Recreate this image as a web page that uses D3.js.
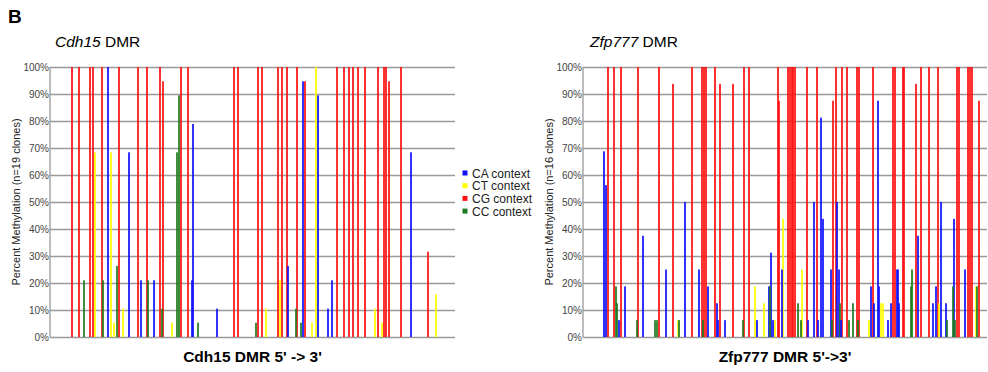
<!DOCTYPE html>
<html>
<head>
<meta charset="utf-8">
<script src="https://cdn.jsdelivr.net/npm/d3@7"></script>
<style>
  body { margin: 0; background: #fff; }
  text { font-family: "Liberation Sans", Arial, sans-serif; }
</style>
</head>
<body>
<div id="app"></div>
<script>
// site = cytosine position along the DMR (5' -> 3'), pct = % methylated clones

// Cdh15 DMR, n=19 clones
const cdh15CG = [[22,100],[29,100],[40,100],[43,100],[52,100],[69,100],[88,100],[97,100],[110,100],[113,94.7],
  [131,100],[138,100],[184,100],[188,100],[208,100],[212,100],[228,100],[232,100],[237,100],[247,100],[255,94.7],
  [287,100],[294,100],[299,100],[303,100],[308,100],[315,100],[328,100],[334,100],[336,100],[339,94.7],[351,100],[378,31.6]]
const cdh15CA = [[58,100],[79,68.4],[91,21],[104,21],[142,21],[143,78.9],[167,10.5],[238,26.3],[253,94.7],[268,89.5],
  [278,10.5],[282,21],[361,68.4]]
const cdh15CT = [[45,68.4],[61,68.4],[64,5.3],[73,10.5],[122,5.3],[216,10.5],[230,21],[262,5.3],[266,100],
  [325,10.5],[332,5.3],[386,15.8]]
const cdh15CC = [[34,21],[53,21],[67,26.3],[98,21],[112,10.5],[127,68.4],[129,89.5],[148,5.3],[206,5.3],[246,10.5],[251,5.3]]

// Zfp777 DMR, n=16 clones
const zfpCG = [[25,100],[31,100],[38,100],[55,100],[76,100],[90,93.75],[109,100],[119,100],[121,100],[123,100],
  [132,100],[137,93.75],[150,93.75],[161,100],[166,100],[195,100],[196,87.5],[205,100],[207,100],[209,100],[210,100],
  [212,100],[224,100],[234,100],[250,87.5],[253,100],[259,100],[264,100],[274,100],[276,100],[290,100],[310,100],
  [312,100],[320,100],[321,100],[333,93.75],[338,100],[346,100],[355,100],[374,100],[376,100],[385,100],[387,100],
  [389,100],[396,87.5]]
const zfpCA = [[21,68.75],[23,56.25],[36,6.25],[42,18.75],[60,37.5],[83,25],[102,50],[116,25],[125,18.75],[134,12.5],
  [135,6.25],[142,6.25],[174,6.25],[186,18.75],[188,31.25],[190,6.25],[199,25],[225,6.25],[231,50],[235,6.25],
  [238,81.25],[240,43.75],[248,25],[254,50],[256,25],[258,6.25],[288,18.75],[291,12.5],[295,87.5],[296,18.75],
  [305,6.25],[308,12.5],[314,25],[315,25],[316,12.5],[335,37.5],[350,12.5],[353,18.75],[358,50],[363,12.5],
  [371,43.75],[382,25]]
const zfpCT = [[95,6.25],[172,18.75],[181,12.5],[192,6.25],[200,43.75],[219,25],[286,6.25],[298,12.5],[300,12.5],
  [356,12.5],[393,18.75]]
const zfpCC = [[33,18.75],[34,12.5],[54,6.25],[72,6.25],[74,6.25],[96,6.25],[120,6.25],[160,6.25],[187,18.75],
  [215,12.5],[218,6.25],[249,6.25],[257,12.5],[266,6.25],[270,12.5],[275,6.25],[328,18.75],[329,25],[364,6.25],
  [370,18.75],[372,6.25],[394,18.75]]

const contexts = ["CA context", "CT context", "CG context", "CC context"]
const colors = ["#1010ff", "#ffff00", "#ff1010", "#1f7a1f"]
const yTicks = d3.range(0, 101, 10)

const W = 988, H = 372
const svg = d3.select("#app").append("svg")
    .attr("width", W)
    .attr("height", H)

svg.append("text")
    .attr("x", 8).attr("y", 23)
    .attr("font-size", 19).attr("font-weight", "bold")
    .text("B")

function panel(opts) {
  const x = d3.scaleLinear().domain([0, opts.sites]).range([opts.left, opts.right])
  const y = d3.scaleLinear().domain([0, 100]).range([337, 67])
  const g = svg.append("g")

  // gridlines + tick labels
  g.append("g")
      .attr("transform", `translate(${opts.left},0)`)
      .call(d3.axisLeft(y).tickValues(yTicks).tickSize(opts.left - opts.right).tickPadding(1).tickFormat(d => d + "%"))
      .call(a => a.select(".domain").remove())
      .call(a => a.selectAll(".tick line").attr("stroke", "#999").attr("stroke-width", 1.3))
      .call(a => a.selectAll(".tick text").attr("fill", "#444")
        .attr("font-family", "Liberation Sans, Arial").attr("font-size", 10))

  g.append("line")
      .attr("x1", opts.left).attr("x2", opts.left)
      .attr("y1", y(100)).attr("y2", y(0))
      .attr("stroke", "#999").attr("stroke-width", 1.3)

  const bars = []
  opts.series.forEach((s, i) => s.forEach(([site, pct]) => bars.push({ site, pct, ctx: i })))
  bars.sort((a, b) => b.pct - a.pct)

  g.append("g")
    .selectAll("rect")
    .data(bars)
    .join("rect")
      .attr("x", d => x(d.site) - 0.85)
      .attr("width", 1.7)
      .attr("y", d => y(d.pct))
      .attr("height", d => y(0) - y(d.pct))
      .attr("fill", d => colors[d.ctx])

  const t = g.append("text")
      .attr("x", opts.titleX).attr("y", 47)
      .attr("font-size", 15.5)
  t.append("tspan").attr("font-style", "italic").text(opts.gene)
  t.append("tspan").text(" DMR")

  g.append("text")
      .attr("transform", `translate(${opts.left - 30},${y(50)}) rotate(-90)`)
      .attr("text-anchor", "middle")
      .attr("font-size", 11)
      .attr("fill", "#222")
      .text(opts.yTitle)

  g.append("text")
      .attr("x", (opts.left + opts.right) / 2).attr("y", 362)
      .attr("text-anchor", "middle")
      .attr("font-size", 15.5).attr("font-weight", "bold")
      .text(opts.xTitle)
}

panel({
  gene: "Cdh15", titleX: 55, left: 50, right: 455, sites: 405,
  series: [cdh15CA, cdh15CT, cdh15CG, cdh15CC],
  yTitle: "Percent Methylation (n=19 clones)", xTitle: "Cdh15 DMR 5' -> 3'"
})
panel({
  gene: "Zfp777", titleX: 590, left: 583, right: 987, sites: 404,
  series: [zfpCA, zfpCT, zfpCG, zfpCC],
  yTitle: "Percent Methylation (n=16 clones)", xTitle: "Zfp777 DMR 5'->3'"
})

// legend
const leg = svg.append("g")
  .selectAll("g")
  .data(contexts)
  .join("g")
    .attr("transform", (d, i) => `translate(465,${173 + i * 12.7})`)
leg.append("rect")
    .attr("x", -2.5).attr("y", -2.5)
    .attr("width", 5).attr("height", 5)
    .attr("fill", (d, i) => colors[i])
leg.append("text")
    .attr("x", 7).attr("y", 4.5)
    .attr("font-size", 12)
    .attr("fill", "#222")
    .text(d => d)
</script>
</body>
</html>
